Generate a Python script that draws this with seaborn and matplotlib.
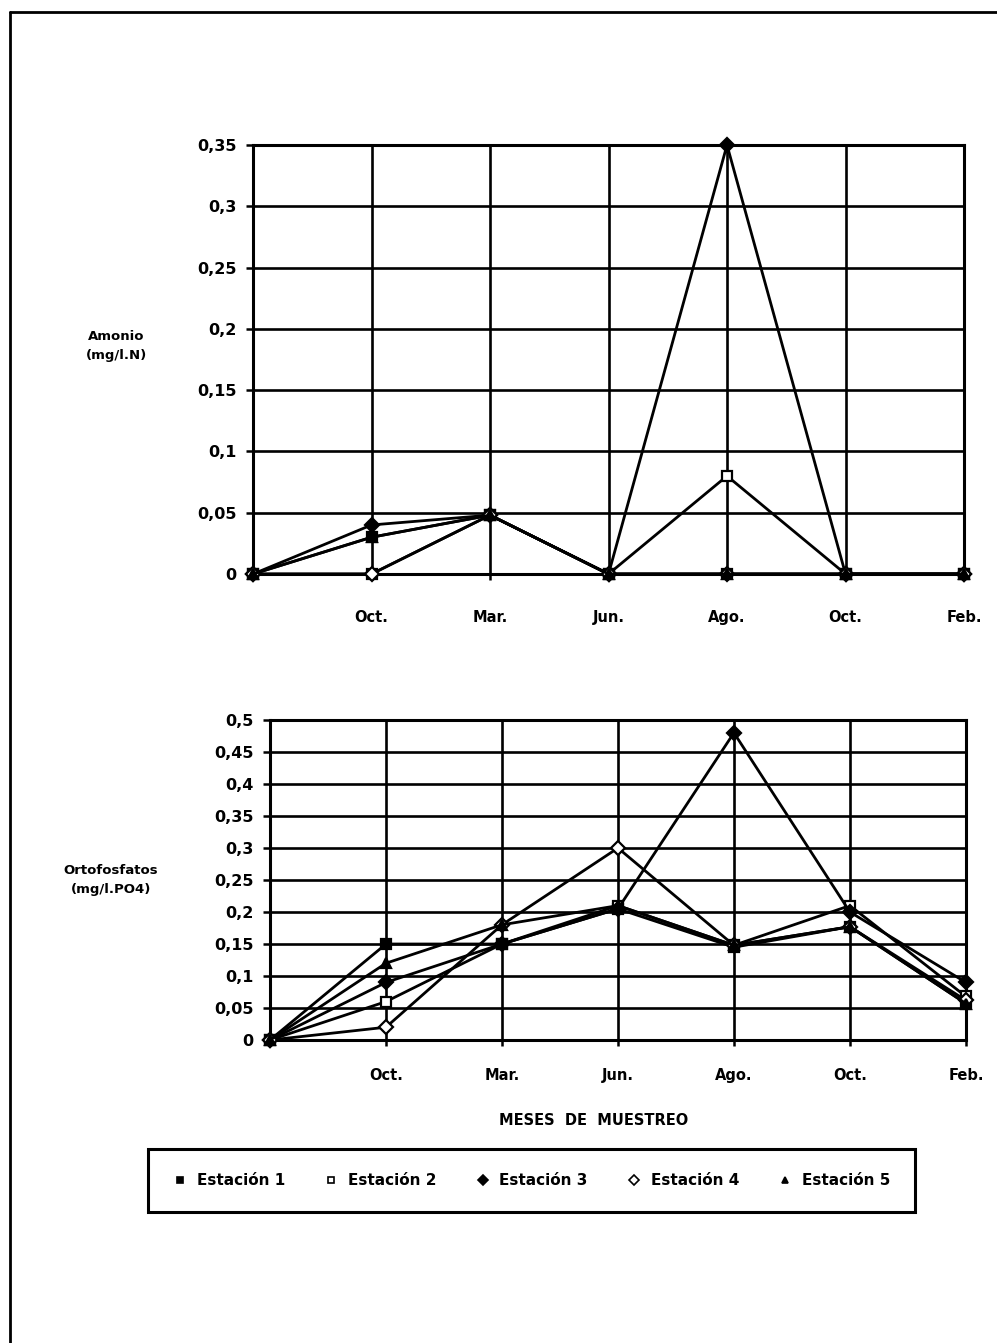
import matplotlib
matplotlib.use("Agg")
import matplotlib.pyplot as plt
from matplotlib.lines import Line2D
import seaborn as sns
import numpy as np
import pandas as pd

# ---- data ----
months = ["", "Oct.", "Mar.", "Jun.", "Ago.", "Oct.", "Feb."]
stations = ["Estación 1", "Estación 2", "Estación 3", "Estación 4", "Estación 5"]

amonio_e1 = [0, 0.03, 0.048, 0, 0, 0, 0]
amonio_e2 = [0, 0, 0.048, 0, 0.08, 0, 0]
amonio_e3 = [0, 0.04, 0.048, 0, 0.35, 0, 0]
amonio_e4 = [0, 0, 0.048, 0, 0, 0, 0]
amonio_e5 = [0, 0.03, 0.048, 0, 0, 0, 0]

orto_e1 = [0, 0.15, 0.15, 0.205, 0.145, 0.177, 0.057]
orto_e2 = [0, 0.06, 0.15, 0.21, 0.148, 0.21, 0.068]
orto_e3 = [0, 0.09, 0.15, 0.205, 0.48, 0.20, 0.09]
orto_e4 = [0, 0.02, 0.18, 0.30, 0.148, 0.177, 0.062]
orto_e5 = [0, 0.12, 0.18, 0.21, 0.148, 0.177, 0.057]

amonio_ticks = [0, 0.05, 0.1, 0.15, 0.2, 0.25, 0.3, 0.35]
amonio_labels = ["0", "0,05", "0,1", "0,15", "0,2", "0,25", "0,3", "0,35"]
orto_ticks = [0, 0.05, 0.1, 0.15, 0.2, 0.25, 0.3, 0.35, 0.4, 0.45, 0.5]
orto_labels = ["0", "0,05", "0,1", "0,15", "0,2", "0,25", "0,3", "0,35", "0,4", "0,45", "0,5"]

amonio = [amonio_e1, amonio_e2, amonio_e3, amonio_e4, amonio_e5]
orto = [orto_e1, orto_e2, orto_e3, orto_e4, orto_e5]

# ---- style ----
sns.set_theme(style="white")
plt.rcParams["font.family"] = ["DejaVu Sans"]
plt.rcParams["font.weight"] = "bold"
plt.rcParams["text.color"] = "black"
plt.rcParams["axes.labelcolor"] = "black"
plt.rcParams["xtick.color"] = "black"
plt.rcParams["ytick.color"] = "black"

markers = ["s", "s", "D", "D", "^"]
faces = ["black", "white", "black", "white", "black"]
msizes = [6.5, 6.5, 7.5, 7.5, 6.5]

fig = plt.figure(figsize=(9.97, 13.43), dpi=100)
ax1 = fig.add_axes([0.2538, 0.5726, 0.7131, 0.3194])
ax2 = fig.add_axes([0.2708, 0.2256, 0.6980, 0.2383])

xpos = np.arange(len(months))


def draw(ax, series, yticks, ylabels, ymax, xpad):
    for vals, mk, fc, ms in zip(series, markers, faces, msizes):
        df = pd.DataFrame({"x": xpos, "y": vals})
        sns.lineplot(data=df, x="x", y="y", ax=ax, color="black", lw=2.0,
                     marker=mk, markerfacecolor=fc, markeredgecolor="black",
                     markeredgewidth=1.6, markersize=ms, zorder=3, clip_on=False)
    ax.set_xlim(0, len(months) - 1)
    ax.set_ylim(0, ymax)
    ax.set_xticks(xpos)
    ax.set_xticklabels(months, fontsize=10.5, fontweight="bold", color="black")
    ax.set_yticks(yticks)
    ax.set_yticklabels(ylabels, fontsize=11.5, fontweight="bold", color="black")
    ax.grid(True, color="black", lw=1.9)
    ax.set_axisbelow(True)
    for s in ax.spines.values():
        s.set_color("black")
        s.set_linewidth(2.2)
    ax.tick_params(axis="y", direction="out", length=5, width=1.8, color="black", pad=7, left=True)
    ax.tick_params(axis="x", direction="out", length=4, width=1.8, color="black", pad=xpad, bottom=True)
    ax.set_xlabel("")
    ax.set_ylabel("")


draw(ax1, amonio, amonio_ticks, amonio_labels, 0.35, 22)
draw(ax2, orto, orto_ticks, orto_labels, 0.5, 16)

fig.text(0.117, 0.742, "Amonio\n(mg/l.N)", ha="center", va="center",
         fontsize=9.5, fontweight="bold", linespacing=1.6, color="black")
fig.text(0.111, 0.345, "Ortofosfatos\n(mg/l.PO4)", ha="center", va="center",
         fontsize=9.5, fontweight="bold", linespacing=1.6, color="black")
fig.text(0.595, 0.166, "MESES  DE  MUESTREO", ha="center", va="center",
         fontsize=10.5, fontweight="bold", color="black")

handles = [Line2D([], [], linestyle="none", marker=mk, markerfacecolor=fc,
                  markeredgecolor="black", markeredgewidth=1.2, markersize=5, color="black")
           for mk, fc in zip(markers, faces)]
leg = fig.legend(handles, stations, loc="center", ncol=5,
                 bbox_to_anchor=(0.1484, 0.0953, 0.7693, 0.0514), mode="expand",
                 borderaxespad=0.0,
                 frameon=True, fancybox=False, framealpha=1, borderpad=1.6, handletextpad=0.6,
                 columnspacing=1.0, handlelength=1.0,
                 prop={"weight": "bold", "size": 11})
leg.get_frame().set_edgecolor("black")
leg.get_frame().set_linewidth(2.2)
for t in leg.get_texts():
    t.set_color("black")

# outer page frame
fig.add_artist(Line2D([0.010, 0.010], [0.0, 0.991], color="black", lw=2, transform=fig.transFigure))
fig.add_artist(Line2D([0.010, 1.0], [0.991, 0.991], color="black", lw=2, transform=fig.transFigure))

fig.savefig("out.png", dpi=100, facecolor="white")
